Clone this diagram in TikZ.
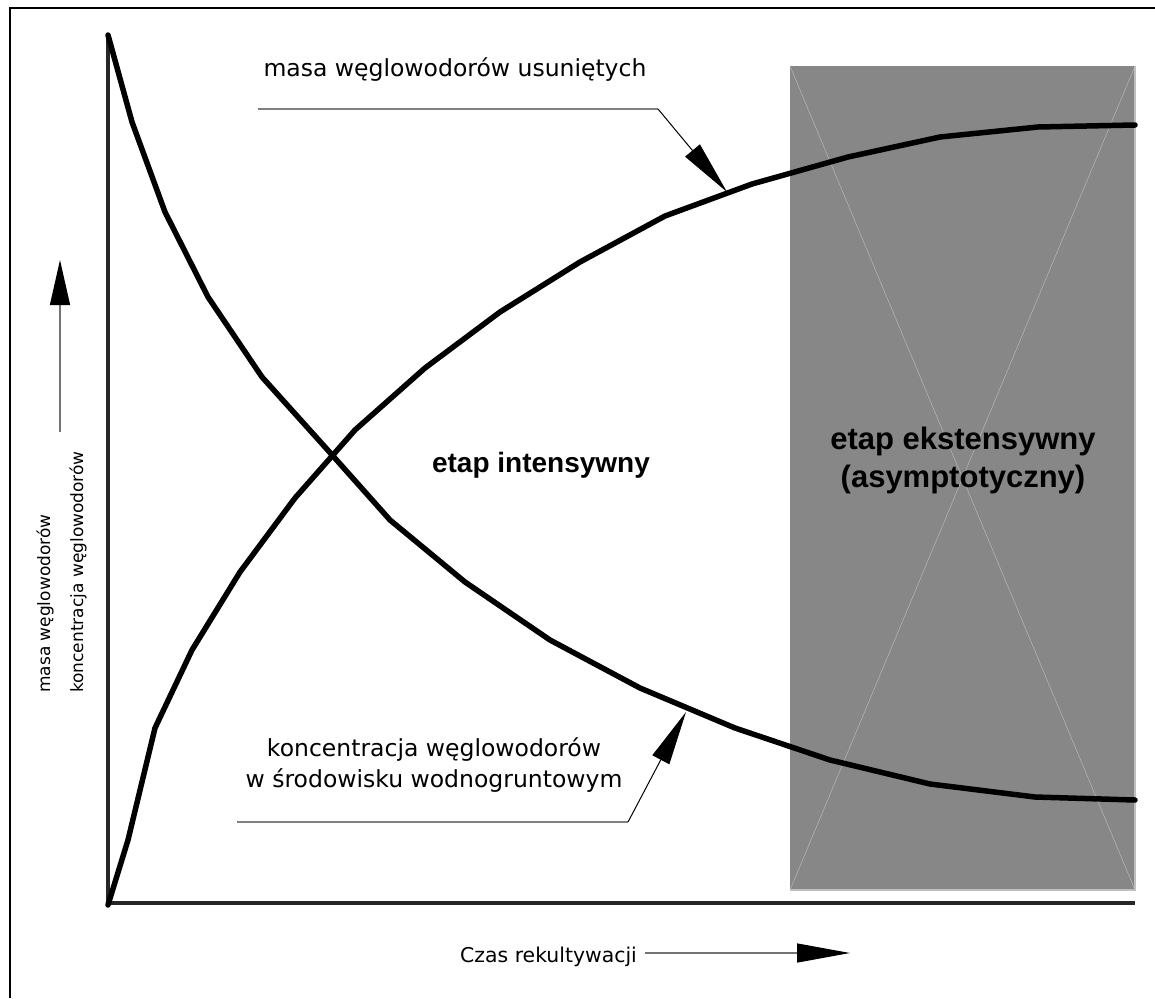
\documentclass[tikz,border=0pt]{standalone}
\usepackage{fontspec}
\setmainfont{DejaVu Sans}
\newfontfamily\stagefont{Liberation Sans}
\usetikzlibrary{arrows.meta}
\definecolor{boxgray}{HTML}{878787}

\begin{document}
\begin{tikzpicture}[x=1pt,y=-1pt,
    curve/.style={line width=5.5pt,line join=round,line cap=round,black},
    axis/.style={line width=4.5pt,black!85},
    leader/.style={line width=2pt,black!50},
    pointer/.style={line width=1pt,black,-{Triangle[length=54pt,width=19pt,color=black]}},
    axisarrow/.style={line width=1.3pt,black!55,-{Triangle[length=45pt,width=20pt,color=black]}}]
\useasboundingbox (0,0) rectangle (1155,998);
% frame
\draw[line width=1.5pt] (10,998) -- (10,8) -- (1155,8);
% asymptotic stage
\fill[boxgray] (790,66) rectangle (1135,890);
\draw[black!28,line width=0.5pt] (790,66) -- (1135,890) (1135,66) -- (790,890);
\draw[black!25,line width=1.5pt] (1135,66) -- (1135,890) -- (790,890);
% axes
\coordinate (O) at (108,903);
\coordinate (ytop) at (108,35);
\coordinate (xend) at (1135,903);
\draw[axis] (ytop) -- (O) -- (xend);
% curves
\draw[curve] plot coordinates {(108,35) (132,122) (165,212) (208,297) (262,377)
    (325,447) (390,520) (465,582) (550,640) (640,688) (735,728) (830,760)
    (930,784) (1035,797) (1135,800)};
\draw[curve] plot coordinates {(108,905) (128,840) (155,728) (192,650) (240,572)
    (295,498) (355,430) (425,368) (500,312) (580,262) (665,216) (752,184)
    (848,157) (940,137) (1038,127) (1135,125)};
% labels
\begin{scope}[every node/.style={font=\fontsize{23.5}{28}\selectfont,anchor=base,inner sep=0pt}]
    \node (mass) at (455,76) {masa węglowodorów usuniętych};
    \node (conc) at (434,756) {koncentracja węglowodorów};
    \node (medium) at (434,787) {w środowisku wodnogruntowym};
\end{scope}
\begin{scope}[every node/.style={font=\fontsize{17}{20}\selectfont,anchor=base west,rotate=90,inner sep=0pt}]
    \node (ymass) at (50,693) {masa węglowodorów};
    \node (yconc) at (83,693) {koncentracja węglowodorów};
\end{scope}
\node[font=\fontsize{20.4}{24}\selectfont,anchor=base west,inner sep=0pt] (time) at (460,962) {Czas rekultywacji};
\node[font=\stagefont\bfseries\fontsize{28}{34}\selectfont,anchor=base] (intense) at (541,472) {etap intensywny};
\node[font=\stagefont\bfseries\fontsize{31}{38}\selectfont,anchor=base] (extense) at (963,449) {etap ekstensywny};
\node[font=\stagefont\bfseries\fontsize{31}{38}\selectfont,anchor=base] (asym) at (963,487) {(asymptotyczny)};
% pointers
\coordinate (massFoot) at (258,109);
\coordinate (massKnee) at (658,109);
\coordinate (massTip) at (727,192);
\draw[leader] (massFoot) -- (massKnee);
\draw[pointer] (massKnee) -- (massTip);
\coordinate (concFoot) at (237,822);
\coordinate (concKnee) at (628,822);
\coordinate (concTip) at (686,712);
\draw[leader] (concFoot) -- (concKnee);
\draw[pointer] (concKnee) -- (concTip);
% axis arrows
\coordinate (yfoot) at (60,432);
\coordinate (ytip) at (60,260);
\draw[axisarrow] (yfoot) -- (ytip);
\coordinate (xfoot) at (645,953);
\coordinate (xtip) at (850,953);
\draw[axisarrow,-{Triangle[length=53pt,width=19pt,color=black]}] (xfoot) -- (xtip);
\end{tikzpicture}
\end{document}
